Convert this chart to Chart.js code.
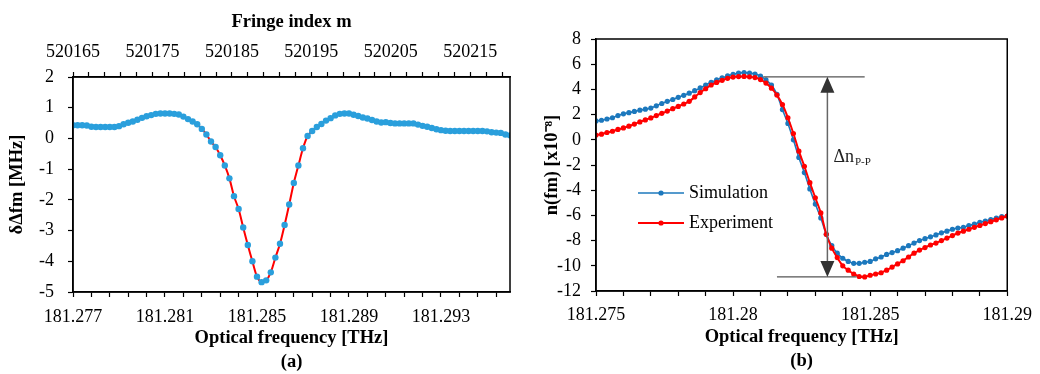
<!DOCTYPE html>
<html>
<head>
<meta charset="utf-8">
<script src="https://cdn.jsdelivr.net/npm/chart.js@4.4.1/dist/chart.umd.min.js"></script>
<style>
  html, body { margin: 0; padding: 0; background: #fff; }
  #wrap { position: relative; width: 1040px; height: 374px; }
  .panel { position: absolute; top: 0; width: 520px; height: 374px; }
  #pa { left: 0; }
  #pb { left: 520px; }
</style>
</head>
<body>
<div id="wrap">
  <div class="panel" id="pa"><canvas id="chart-a" width="520" height="374"></canvas></div>
  <div class="panel" id="pb"><canvas id="chart-b" width="520" height="374"></canvas></div>
</div>
<script>
/* (a) beat-frequency deviation vs optical frequency
   (b) refractive index change, simulation vs experiment */

/* ── data (a) ── */
const freqA = [
  181.2770, 181.2772, 181.2774, 181.2776, 181.2778, 181.2780, 181.2782, 181.2784, 181.2786, 181.2788,
  181.2790, 181.2792, 181.2794, 181.2796, 181.2798, 181.2800, 181.2802, 181.2804, 181.2806, 181.2808,
  181.2810, 181.2812, 181.2814, 181.2816, 181.2818, 181.2820, 181.2822, 181.2824, 181.2826, 181.2828,
  181.2830, 181.2832, 181.2834, 181.2836, 181.2838, 181.2840, 181.2842, 181.2844, 181.2846, 181.2848,
  181.2850, 181.2852, 181.2854, 181.2856, 181.2858, 181.2860, 181.2862, 181.2864, 181.2866, 181.2868,
  181.2870, 181.2872, 181.2874, 181.2876, 181.2878, 181.2880, 181.2882, 181.2884, 181.2886, 181.2888,
  181.2890, 181.2892, 181.2894, 181.2896, 181.2898, 181.2900, 181.2902, 181.2904, 181.2906, 181.2908,
  181.2910, 181.2912, 181.2914, 181.2916, 181.2918, 181.2920, 181.2922, 181.2924, 181.2926, 181.2928,
  181.2930, 181.2932, 181.2934, 181.2936, 181.2938, 181.2940, 181.2942, 181.2944, 181.2946, 181.2948,
  181.2950, 181.2952, 181.2954, 181.2956, 181.2958, 181.2960,
];
const deltaA = [
  0.43, 0.43, 0.43, 0.42, 0.38, 0.37, 0.37, 0.37, 0.37, 0.37,
  0.40, 0.46, 0.51, 0.55, 0.61, 0.67, 0.72, 0.76, 0.80, 0.81,
  0.81, 0.81, 0.80, 0.78, 0.71, 0.63, 0.55, 0.46, 0.31, 0.13,
  -0.10, -0.28, -0.55, -0.88, -1.30, -1.88, -2.30, -2.90, -3.47, -4.00,
  -4.50, -4.68, -4.62, -4.36, -3.88, -3.43, -2.82, -2.15, -1.45, -0.88,
  -0.32, 0.08, 0.24, 0.37, 0.47, 0.58, 0.66, 0.75, 0.80, 0.81,
  0.81, 0.77, 0.73, 0.68, 0.65, 0.60, 0.55, 0.52, 0.53, 0.50,
  0.49, 0.49, 0.49, 0.49, 0.49, 0.45, 0.41, 0.38, 0.34, 0.30,
  0.27, 0.25, 0.24, 0.24, 0.24, 0.24, 0.24, 0.24, 0.24, 0.24,
  0.23, 0.20, 0.19, 0.18, 0.13, 0.10,
];
const freqLabelsA  = [181.277, 181.281, 181.285, 181.289, 181.293];
const fringeLabels = [520165, 520175, 520185, 520195, 520205, 520215];

/* ── data (b) ── */
const freqB = [
  181.2750, 181.2752, 181.2754, 181.2756, 181.2758, 181.2760, 181.2762, 181.2764, 181.2766, 181.2768,
  181.2770, 181.2772, 181.2774, 181.2776, 181.2778, 181.2780, 181.2782, 181.2784, 181.2786, 181.2788,
  181.2790, 181.2792, 181.2794, 181.2796, 181.2798, 181.2800, 181.2802, 181.2804, 181.2806, 181.2808,
  181.2810, 181.2812, 181.2814, 181.2816, 181.2818, 181.2820, 181.2822, 181.2824, 181.2826, 181.2828,
  181.2830, 181.2832, 181.2834, 181.2836, 181.2838, 181.2840, 181.2842, 181.2844, 181.2846, 181.2848,
  181.2850, 181.2852, 181.2854, 181.2856, 181.2858, 181.2860, 181.2862, 181.2864, 181.2866, 181.2868,
  181.2870, 181.2872, 181.2874, 181.2876, 181.2878, 181.2880, 181.2882, 181.2884, 181.2886, 181.2888,
  181.2890, 181.2892, 181.2894, 181.2896, 181.2898, 181.2900,
];
const simB = [
  1.50, 1.55, 1.65, 1.75, 1.92, 2.06, 2.15, 2.25, 2.35, 2.43,
  2.52, 2.70, 2.88, 3.05, 3.20, 3.37, 3.53, 3.70, 3.90, 4.12,
  4.35, 4.56, 4.75, 4.92, 5.07, 5.20, 5.30, 5.33, 5.30, 5.22,
  5.05, 4.75, 4.35, 3.60, 2.40, 1.30, 0.00, -1.40, -2.60, -3.90,
  -5.10, -6.20, -7.50, -8.40, -9.00, -9.40, -9.65, -9.80, -9.80, -9.72,
  -9.65, -9.45, -9.30, -9.10, -8.95, -8.80, -8.60, -8.40, -8.20, -8.00,
  -7.85, -7.70, -7.55, -7.38, -7.25, -7.10, -7.00, -6.95, -6.80, -6.70,
  -6.55, -6.45, -6.33, -6.22, -6.10, -6.05,
];
const expB = [
  0.38, 0.45, 0.58, 0.68, 0.82, 0.94, 1.08, 1.25, 1.42, 1.58,
  1.74, 1.92, 2.10, 2.28, 2.47, 2.65, 2.84, 3.05, 3.40, 3.75,
  4.05, 4.35, 4.55, 4.72, 4.88, 4.98, 5.02, 5.03, 5.00, 4.94,
  4.78, 4.50, 4.10, 3.55, 2.80, 1.75, 0.50, -0.90, -2.10, -3.40,
  -4.60, -5.80, -7.50, -8.60, -9.35, -10.00, -10.35, -10.65, -10.85, -10.88,
  -10.75, -10.65, -10.55, -10.35, -10.10, -9.85, -9.60, -9.30, -9.00, -8.75,
  -8.55, -8.35, -8.20, -8.00, -7.80, -7.60, -7.40, -7.25, -7.10, -6.95,
  -6.80, -6.65, -6.50, -6.35, -6.20, -6.05,
];
const freqLabelsB = ["181.275", "181.28", "181.285", "181.29"];

/* Δn p-p marker (data units) */
const PEAK_LEVEL   = 5.0;
const TROUGH_LEVEL = -10.88;
const PEAK_SPAN    = [181.2811, 181.2848];
const TROUGH_SPAN  = [181.2816, 181.2845];
const ARROW_FREQ   = 181.28344;
const LABEL_LEVEL  = -1.4;

/* ── common styling ── */
const SERIF = "'Liberation Serif', 'Times New Roman', serif";
Chart.defaults.font.family = SERIF;
Chart.defaults.font.size = 18;
Chart.defaults.color = "#000";

const BLUE_A = "#2a9fdc";
const BLUE_B = "#1c78bd";
const RED    = "#ff0000";

const toPts = (xs, ys) => xs.map((x, i) => ({ x, y: ys[i] }));

const axisLook = () => ({
  border: { color: "#000", width: 1.5 },
  grid: { drawOnChartArea: false, drawTicks: true, tickLength: 5, tickColor: "#000", tickWidth: 1.2 },
});
const titleFont  = { size: 18.5, weight: "bold", lineHeight: 1.3 };
const titleFont1 = { size: 18.5, weight: "bold" };

const frameBox = {
  id: "frameBox",
  afterDraw(chart) {
    const { ctx, chartArea: a } = chart;
    ctx.save();
    ctx.strokeStyle = "#000";
    ctx.lineWidth = 1.5;
    ctx.strokeRect(a.left, a.top, a.right - a.left, a.bottom - a.top);
    ctx.restore();
  },
};

/* ── chart (a) ── */
new Chart(document.getElementById("chart-a"), {
  type: "line",
  data: {
    datasets: [
      {
        data: toPts(freqA, deltaA),
        showLine: false,
        pointRadius: 3.2,
        pointBackgroundColor: BLUE_A,
        pointBorderWidth: 0,
      },
      {
        data: toPts(freqA, deltaA),
        borderColor: RED,
        borderWidth: 2,
        pointRadius: 0,
        tension: 0.3,
      },
    ],
  },
  options: {
    responsive: false,
    animation: false,
    layout: { padding: { left: 0, right: 10, top: 0, bottom: 0 } },
    plugins: { legend: { display: false }, tooltip: { enabled: false } },
    scales: {
      x: {
        type: "linear",
        position: "bottom",
        min: 181.277,
        max: 181.296,
        ...axisLook(),
        afterBuildTicks(s) {
          const t = [];
          for (let k = 0; k <= 23; k++) t.push({ value: 181.277 + k * 0.0008 });
          s.ticks = t;
        },
        ticks: {
          padding: 9,
          autoSkip: false,
          maxRotation: 0,
          callback(v) {
            const hit = freqLabelsA.find(f => Math.abs(f - v) < 1e-7);
            return hit !== undefined ? hit.toFixed(3) : "";
          },
        },
        title: { display: true, text: ["Optical frequency [THz]", "(a)"], font: titleFont, padding: { top: 0, bottom: 0 } },
        afterFit(s) { s.height = 82; },
      },
      x2: {
        type: "linear",
        position: "top",
        min: 520165,
        max: 520220,
        ...axisLook(),
        afterBuildTicks(s) {
          const t = [];
          for (let m = 520165; m <= 520219; m += 2) t.push({ value: m });
          s.ticks = t;
        },
        ticks: {
          padding: 9,
          autoSkip: false,
          maxRotation: 0,
          callback: v => (fringeLabels.includes(v) ? String(v) : ""),
        },
        title: { display: true, text: "Fringe index m", font: titleFont1, padding: { top: 11, bottom: 0 } },
        afterFit(s) { s.height = 77; },
      },
      y: {
        min: -5,
        max: 2,
        ...axisLook(),
        ticks: { stepSize: 1, padding: 14 },
        title: { display: true, text: "δΔfm [MHz]", font: titleFont1, padding: { top: 6, bottom: 0 } },
        afterFit(s) { s.width = 73; },
      },
    },
  },
  plugins: [frameBox],
});

/* ── chart (b) legend + Δn marker ── */
const legendB = {
  id: "legendB",
  afterDraw(chart) {
    const { ctx, chartArea: a } = chart;
    const rows = ["Simulation", "Experiment"];
    ctx.save();
    rows.forEach((name, i) => {
      const ds = chart.data.datasets.find(d => d.label === name);
      const y = a.top + 154 + i * 30;
      const x0 = a.left + 42, x1 = a.left + 88;
      ctx.strokeStyle = ds.borderColor;
      ctx.lineWidth = ds.borderWidth;
      ctx.beginPath(); ctx.moveTo(x0, y); ctx.lineTo(x1, y); ctx.stroke();
      ctx.fillStyle = ds.borderColor;
      ctx.beginPath(); ctx.arc((x0 + x1) / 2, y, 2.6, 0, Math.PI * 2); ctx.fill();
      ctx.fillStyle = "#000";
      ctx.font = `18px ${SERIF}`;
      ctx.textBaseline = "middle";
      ctx.fillText(name, x1 + 5, y);
    });
    ctx.restore();
  },
};

const deltaMarker = {
  id: "deltaMarker",
  afterDatasetsDraw(chart) {
    const { ctx, scales: { x, y } } = chart;
    const yTop = y.getPixelForValue(PEAK_LEVEL);
    const yBot = y.getPixelForValue(TROUGH_LEVEL);
    const xa = x.getPixelForValue(ARROW_FREQ);
    ctx.save();
    ctx.strokeStyle = "#555";
    ctx.lineWidth = 1.3;
    ctx.beginPath();
    ctx.moveTo(x.getPixelForValue(PEAK_SPAN[0]), yTop);
    ctx.lineTo(x.getPixelForValue(PEAK_SPAN[1]), yTop);
    ctx.moveTo(x.getPixelForValue(TROUGH_SPAN[0]), yBot);
    ctx.lineTo(x.getPixelForValue(TROUGH_SPAN[1]), yBot);
    ctx.stroke();
    ctx.strokeStyle = "#666";
    ctx.lineWidth = 1.5;
    ctx.beginPath();
    ctx.moveTo(xa, yTop + 10);
    ctx.lineTo(xa, yBot - 10);
    ctx.stroke();
    ctx.fillStyle = "#333";
    ctx.beginPath();
    ctx.moveTo(xa, yTop); ctx.lineTo(xa - 7, yTop + 16); ctx.lineTo(xa + 7, yTop + 16); ctx.closePath();
    ctx.moveTo(xa, yBot); ctx.lineTo(xa - 7, yBot - 16); ctx.lineTo(xa + 7, yBot - 16); ctx.closePath();
    ctx.fill();
    const ly = y.getPixelForValue(LABEL_LEVEL);
    ctx.fillStyle = "#222";
    ctx.textBaseline = "middle";
    ctx.font = `18px ${SERIF}`;
    ctx.fillText("Δn", xa + 6, ly);
    const w = ctx.measureText("Δn").width;
    ctx.font = `11px ${SERIF}`;
    ctx.fillText("P-P", xa + 7 + w, ly + 5);
    ctx.restore();
  },
};

/* ── chart (b) ── */
new Chart(document.getElementById("chart-b"), {
  type: "line",
  data: {
    datasets: [
      {
        label: "Experiment",
        order: 0,
        data: toPts(freqB, expB),
        borderColor: RED,
        borderWidth: 2,
        pointRadius: 2.6,
        pointBackgroundColor: RED,
        pointBorderWidth: 0,
        tension: 0.3,
      },
      {
        label: "Simulation",
        order: 1,
        data: toPts(freqB, simB),
        borderColor: BLUE_B,
        borderWidth: 1.6,
        pointRadius: 2.6,
        pointBackgroundColor: BLUE_B,
        pointBorderWidth: 0,
        tension: 0.3,
      },
    ],
  },
  options: {
    responsive: false,
    animation: false,
    layout: { padding: { left: 0, right: 28, top: 39, bottom: 0 } },
    plugins: { legend: { display: false }, tooltip: { enabled: false } },
    scales: {
      x: {
        type: "linear",
        min: 181.275,
        max: 181.29,
        ...axisLook(),
        afterBuildTicks(s) {
          const t = [];
          for (let k = 0; k <= 15; k++) t.push({ value: 181.275 + k * 0.001 });
          s.ticks = t;
        },
        ticks: {
          padding: 8,
          autoSkip: false,
          maxRotation: 0,
          callback: (v, i) => (i % 5 === 0 ? freqLabelsB[i / 5] : ""),
        },
        title: { display: true, text: ["Optical frequency [THz]", "(b)"], font: titleFont, padding: { top: 0, bottom: 1 } },
        afterFit(s) { s.height = 83; },
      },
      y: {
        min: -12,
        max: 8,
        ...axisLook(),
        ticks: { stepSize: 2, padding: 10 },
        title: { display: true, text: "n(fm) [x10⁻⁸]", font: titleFont1, padding: { top: 21, bottom: 0 } },
        afterFit(s) { s.width = 76; },
      },
    },
  },
  plugins: [frameBox, legendB, deltaMarker],
});
</script>
</body>
</html>
